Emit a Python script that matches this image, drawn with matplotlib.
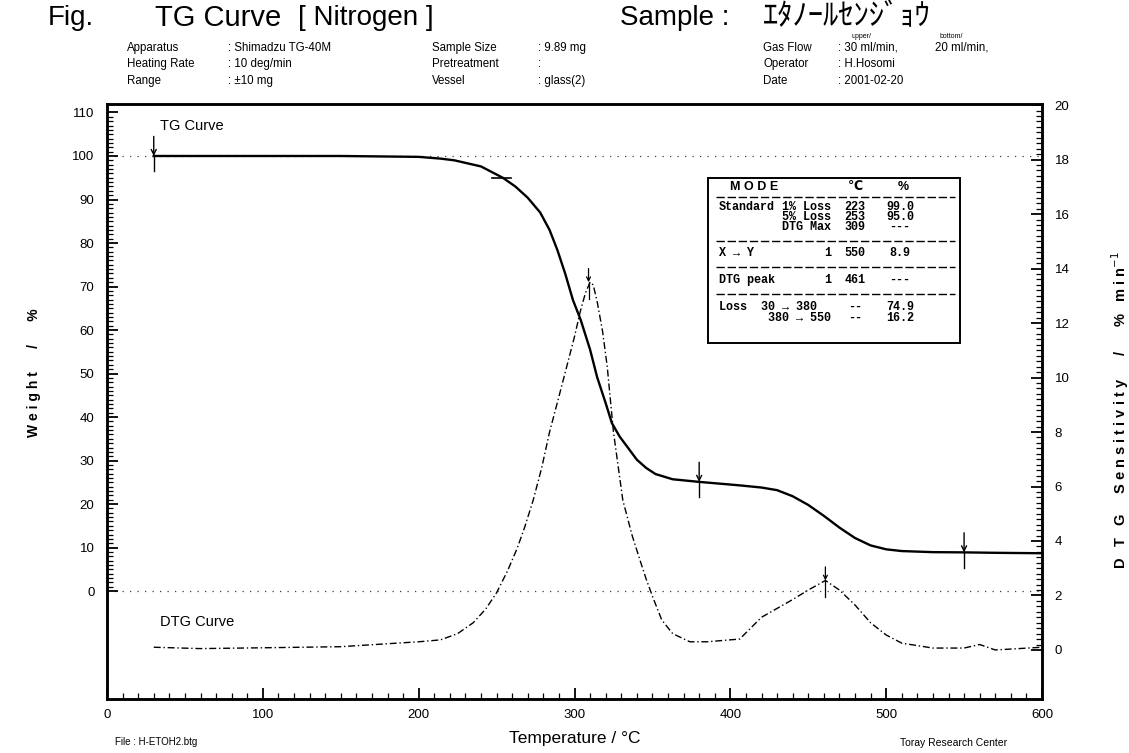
#!/usr/bin/env python3
import matplotlib

matplotlib.use("Agg")
import matplotlib.pyplot as plt
from matplotlib.lines import Line2D
from matplotlib.patches import Rectangle
from matplotlib.ticker import FixedLocator, NullFormatter

W_PX, H_PX = 1129, 753

# TG curve (weight %, left axis)
tg_temp = [30, 100, 150, 200, 214, 223, 240, 254, 262, 270, 278, 284, 289, 294, 299,
           304, 310, 314.5, 320, 324, 329, 334, 340, 346, 352, 363, 380, 406, 420, 430,
           440, 450, 460, 470, 480, 490, 500, 510, 530, 550, 570, 600]
tg_weight = [100, 100, 100, 99.8, 99.4, 99.0, 97.6, 95.0, 93.0, 90.4, 87.0, 83.0, 78.4,
             73.0, 66.9, 62.3, 55.5, 49.2, 43.2, 38.6, 35.5, 33.1, 30.2, 28.3, 26.9, 25.7,
             25.1, 24.3, 23.8, 23.2, 21.8, 19.8, 17.3, 14.6, 12.2, 10.5, 9.6, 9.2, 8.95,
             8.9, 8.8, 8.7]

# DTG curve (%/min, right axis)
dtg_temp = [30, 60, 100, 150, 200, 214, 225, 235, 243, 250, 257, 263, 268, 273.5, 279,
            284, 290, 295, 300, 303.6, 307, 310, 312, 314.5, 318, 321, 325, 331, 337,
            342, 346, 350.5, 356, 363, 374, 385, 406, 420, 440, 450, 461, 470, 480, 490,
            500, 510, 530, 550, 560, 570, 585, 600]
dtg_rate = [0.1, 0.05, 0.08, 0.12, 0.3, 0.37, 0.6, 1.0, 1.5, 2.1, 2.9, 3.7, 4.5, 5.5,
            6.7, 8.0, 9.3, 10.4, 11.5, 12.4, 13.1, 13.5, 13.4, 12.8, 11.7, 10.4, 8.0, 5.5,
            4.2, 3.3, 2.6, 1.9, 1.1, 0.6, 0.3, 0.3, 0.4, 1.2, 1.85, 2.2, 2.55, 2.2, 1.65,
            1.0, 0.55, 0.25, 0.07, 0.07, 0.2, 0.0, 0.05, 0.1]

# marked points
tg_marks_temp = [30, 380, 550]
tg_marks_weight = [100, 25.1, 8.9]
loss5_temp, loss5_weight = 253, 95.0
dtg_peaks_temp = [309, 461]
dtg_peaks_rate = [13.5, 2.55]

x_ticks = [0, 100, 200, 300, 400, 500, 600]
left_ticks = list(range(0, 111, 10))
right_ticks = list(range(0, 21, 2))

header_rows = [
    ["Apparatus", ": Shimadzu TG-40M", "Sample Size", ": 9.89 mg", "Gas Flow", ": 30 ml/min,", "20 ml/min,"],
    ["Heating Rate", ": 10 deg/min", "Pretreatment", ":", "Operator", ": H.Hosomi", ""],
    ["Range", ": \u00b110 mg", "Vessel", ": glass(2)", "Date", ": 2001-02-20", ""],
]
header_cols_x = [127, 228, 432, 538, 763, 838, 935]
header_rows_y = [48, 64, 81]

# results table: (left label, right label, deg C, %)
table_rows = [
    ("Standard", "1% Loss", "223", "99.0"),
    ("", "5% Loss", "253", "95.0"),
    ("", "DTG Max", "309", "---"),
    ("X \u2192 Y", "1", "550", "8.9"),
    ("DTG peak", "1", "461", "---"),
    ("Loss  30 \u2192 380", "", "--", "74.9"),
    ("", "380 \u2192 550", "--", "16.2"),
]
table_rows_y = [207, 217, 227, 253, 280, 307, 318]
table_lines_y = [197, 241, 267, 294]

SANS = ["Liberation Sans", "DejaVu Sans"]
MONO = ["Liberation Mono", "DejaVu Sans Mono", "DejaVu Sans"]

fig = plt.figure(figsize=(W_PX / 100, H_PX / 100), dpi=100)
fig.patch.set_facecolor("white")


def ftext(x, y, s, **kw):
    kw.setdefault("va", "center")
    kw.setdefault("family", SANS)
    fig.text(x / W_PX, 1 - y / H_PX, s, **kw)


def fline(x0, x1, y, **kw):
    fig.add_artist(Line2D([x0 / W_PX, x1 / W_PX], [1 - y / H_PX, 1 - y / H_PX],
                          transform=fig.transFigure, **kw))


ax_l, ax_r_px, ax_top, ax_bot = 107, 1042, 104, 699
ax = fig.add_axes([ax_l / W_PX, 1 - ax_bot / H_PX, (ax_r_px - ax_l) / W_PX, (ax_bot - ax_top) / H_PX])
ax2 = ax.twinx()

ax.set_xlim(0, 600)
ax.set_ylim(-24.8, 111.95)
ax2.set_ylim(-1.8, 20.04)

# reference dotted lines
ax.axhline(100, color="0.25", lw=0.9, ls=(0, (1, 5)), zorder=1)
ax.axhline(0, color="0.25", lw=0.9, ls=(0, (1, 5)), zorder=1)

ax.plot(tg_temp, tg_weight, color="black", lw=1.7, zorder=3)
ax2.plot(dtg_temp, dtg_rate, color="black", lw=1.0, ls=(0, (5, 2, 1, 2)), zorder=3)

# arrows on TG curve
for t, w in zip(tg_marks_temp, tg_marks_weight):
    ax.annotate("", xy=(t, w), xytext=(t, w + 4.5),
                arrowprops=dict(arrowstyle="->", lw=1.0, color="black", shrinkA=0, shrinkB=0,
                                mutation_scale=9))
    ax.plot([t, t], [w, w - 3.5], color="black", lw=1.0)
ax.plot([loss5_temp - 6, loss5_temp + 6], [loss5_weight, loss5_weight], color="black", lw=1.2)

# arrows on DTG peaks
for t, r in zip(dtg_peaks_temp, dtg_peaks_rate):
    ax2.annotate("", xy=(t, r), xytext=(t, r + 0.5),
                 arrowprops=dict(arrowstyle="->", lw=0.9, color="black", shrinkA=0, shrinkB=0,
                                 mutation_scale=7))
    ax2.plot([t, t], [r, r - 0.6], color="black", lw=0.9)

ax.text(34, 106.9, "TG Curve", fontsize=10.5, family=SANS, va="center")
ax.text(34, -7.2, "DTG Curve", fontsize=10.5, family=SANS, va="center")

# ticks
ax.xaxis.set_major_locator(FixedLocator(x_ticks))
ax.xaxis.set_minor_locator(FixedLocator(list(range(0, 601, 10))))
ax.yaxis.set_major_locator(FixedLocator(left_ticks))
ax.yaxis.set_minor_locator(FixedLocator(list(range(0, 111, 1))))
ax2.yaxis.set_major_locator(FixedLocator(right_ticks))
ax2.yaxis.set_minor_locator(FixedLocator([i * 0.2 for i in range(0, 101)]))
ax2.yaxis.set_minor_formatter(NullFormatter())

ax.tick_params(axis="both", which="major", direction="in", length=8, width=1.3, labelsize=9.5)
ax.tick_params(axis="both", which="minor", direction="in", length=4, width=0.9)
ax.tick_params(axis="x", pad=7)
ax.tick_params(axis="y", pad=9)
ax2.tick_params(axis="y", which="major", direction="in", length=8, width=1.3, labelsize=9.5, pad=9)
ax2.tick_params(axis="y", which="minor", direction="in", length=4, width=0.9)
for a in (ax, ax2):
    for lab in a.get_xticklabels() + a.get_yticklabels():
        lab.set_family(SANS)
    for side in a.spines.values():
        side.set_linewidth(1.8)

ax.set_xlabel("Temperature / \u00b0C", fontsize=12.5, family=SANS)
ax.xaxis.set_label_coords(0.5, -0.054)
ax.set_ylabel("W e i g h t      /      %", fontsize=10, family=SANS, weight="bold")
ax.yaxis.set_label_coords(-0.071, 0.548)
ax2.set_ylabel("D   T   G     S e n s i t i v i t y      /      %   m i n$^{-1}$", fontsize=10.5,
               family=SANS, weight="bold")
ax2.yaxis.set_label_coords(1.072, 0.486)

# title line
ftext(48, 18, "Fig.", fontsize=20)
ftext(155, 18, "TG Curve", fontsize=21)
ftext(298, 18, "[ Nitrogen ]", fontsize=20)
ftext(620, 18, "Sample :", fontsize=20)
ftext(763, 16, "\uff74\uff80\uff89\uff70\uff99\uff7e\uff9d\uff7c\uff9e\uff6e\uff73", fontsize=22,
      family=["Noto Sans CJK JP", "DejaVu Sans"])

# header info
for row, y in zip(header_rows, header_rows_y):
    for s, x in zip(row, header_cols_x):
        if s:
            ftext(x, y, s, fontsize=8.3)
ftext(852, 37, "upper/", fontsize=5)
ftext(940, 37, "bottom/", fontsize=5)

# results table
fig.add_artist(Rectangle((708 / W_PX, 1 - 343 / H_PX), (960 - 708) / W_PX, (343 - 178) / H_PX,
                         transform=fig.transFigure, fill=False, lw=1.4, ec="black"))
ftext(730, 187, "M O D E", fontsize=9, weight="bold")
ftext(855, 187, "\u2103", fontsize=9, weight="bold", ha="center", family=["DejaVu Sans"])
ftext(903, 187, "%", fontsize=9, weight="bold", ha="center")
for y in table_lines_y:
    fline(716, 955, y, color="black", lw=1.0, ls=(0, (6, 2)))
for (left, right, deg, pct), y in zip(table_rows, table_rows_y):
    if left:
        ftext(719, y, left, fontsize=8.5, weight="bold", family=MONO)
    if right:
        ftext(831, y, right, fontsize=8.5, weight="bold", family=MONO, ha="right")
    ftext(855, y, deg, fontsize=8.5, weight="bold", family=MONO, ha="center")
    ftext(900, y, pct, fontsize=8.5, weight="bold", family=MONO, ha="center")

# footer
ftext(115, 742, "File : H-ETOH2.btg", fontsize=7)
ftext(900, 743, "Toray Research Center", fontsize=7.5)

fig.savefig("out.png", dpi=100)
